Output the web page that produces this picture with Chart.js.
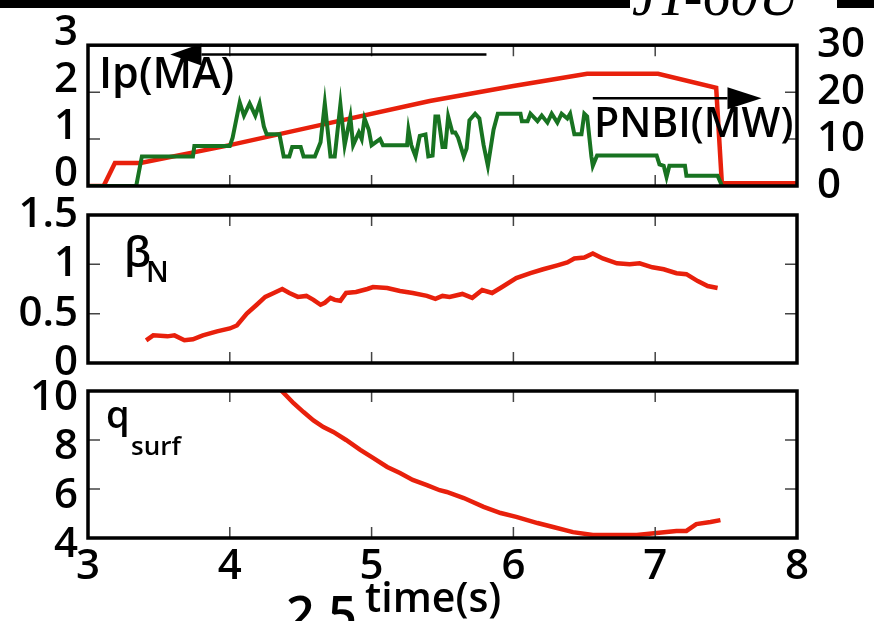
<!DOCTYPE html>
<html lang="en">
<head>
<meta charset="UTF-8">
<title>JT-60U discharge</title>
<script src="https://cdn.jsdelivr.net/npm/chart.js"></script>
<style>
  html, body { margin: 0; padding: 0; background: #fff; }
  body { width: 874px; height: 621px; position: relative; overflow: hidden; font-family: "Open Sans", sans-serif; font-weight: 600; }
  canvas { position: absolute; left: 0; top: 0; }
  .lbl { position: absolute; line-height: 1; white-space: nowrap; color: #000; }
  .bar { position: absolute; top: 0; height: 8px; background: #000; }
</style>
</head>
<body>
<div class="bar" style="left:0;width:630px"></div>
<div class="bar" style="left:837px;width:37px"></div>
<div class="lbl" style="left:632px;top:-32px;font-family:'Liberation Serif',serif;font-style:italic;font-weight:normal;font-size:56px">JT-60U</div>

<canvas id="ipChart" width="874" height="621"></canvas>
<canvas id="betaChart" width="874" height="621"></canvas>
<canvas id="qChart" width="874" height="621"></canvas>

<div class="lbl" style="left:99px;top:50px;font-size:43px">Ip(MA)</div>
<div class="lbl" style="left:594px;top:101px;font-size:41px">PNBI(MW)</div>
<div class="lbl" style="left:124px;top:230px;font-size:42px">β</div>
<div class="lbl" style="left:146px;top:256px;font-size:29px">N</div>
<div class="lbl" style="left:106px;top:394px;font-size:38px">q</div>
<div class="lbl" style="left:131px;top:432px;font-size:26px">surf</div>
<div class="lbl" style="left:365px;top:576px;font-size:41px">time(s)</div>
<div class="lbl" style="left:286px;top:588px;font-size:50px">2.5</div>

<script>
const FONT = '"Open Sans", sans-serif';
const RED = '#e8200c';
const GREEN = '#187321';

// plasma current (MA)
const ipTime = [3.00, 3.11, 3.19, 3.37, 4.00, 4.70, 5.41, 6.00, 6.52, 7.02, 7.43, 7.47, 8.00];
const ipMA   = [0.00, 0.00, 0.49, 0.49, 0.87, 1.34, 1.81, 2.13, 2.39, 2.39, 2.09, 0.06, 0.06];

// NBI power (MW)
const pnbiTime = [3.00, 3.34, 3.38, 3.74, 3.75, 4.00, 4.02, 4.07, 4.10, 4.14, 4.18, 4.21, 4.24, 4.26,
  4.35, 4.38, 4.42, 4.44, 4.50, 4.52, 4.60, 4.64, 4.67, 4.71, 4.74, 4.78, 4.81, 4.85, 4.87, 4.91,
  4.93, 4.95, 4.98, 5.00, 5.06, 5.08, 5.25, 5.26, 5.28, 5.31, 5.34, 5.38, 5.40, 5.43, 5.45, 5.47,
  5.50, 5.52, 5.54, 5.57, 5.59, 5.61, 5.65, 5.67, 5.69, 5.73, 5.76, 5.79, 5.82, 5.86, 5.89, 6.05,
  6.06, 6.10, 6.12, 6.17, 6.20, 6.24, 6.27, 6.31, 6.34, 6.38, 6.40, 6.43, 6.48, 6.50, 6.52, 6.55,
  6.56, 6.59, 7.01, 7.03, 7.06, 7.08, 7.10, 7.21, 7.22, 7.44, 7.47];
const pnbiMW = [0, 0, 6.3, 6.3, 8.5, 8.5, 10.3, 17.8, 15, 17.6, 15, 17.6, 12.7, 11,
  11, 6.3, 6.3, 8.3, 8.3, 6.3, 6.3, 9.3, 17.6, 6.3, 6.3, 17.4, 8.7, 14.7, 8.7, 11.4,
  10, 14.4, 12, 8.7, 10, 8.7, 8.7, 12, 8.7, 6.3, 10.7, 11, 6.3, 6.5, 14.8, 14.8,
  8.3, 8.3, 14.8, 11.4, 11.4, 10.3, 6.3, 8, 14, 15.4, 14.4, 8.7, 4.3, 12, 15.4, 15.4,
  13.8, 13.8, 15.4, 13.8, 15, 13.5, 15.4, 13.5, 15.4, 14.4, 15.4, 11, 11, 15.4, 14.8, 6.3,
  4.3, 6.5, 6.5, 4.6, 4.3, 1.9, 4.3, 4.3, 2.2, 2.2, 0.1];

// normalised beta
const betaTime = [3.41, 3.46, 3.56, 3.61, 3.68, 3.74, 3.81, 3.91, 4.00, 4.05, 4.12, 4.19, 4.25, 4.31,
  4.37, 4.42, 4.48, 4.54, 4.59, 4.64, 4.67, 4.71, 4.74, 4.78, 4.82, 4.89, 4.97, 5.01, 5.11, 5.20,
  5.29, 5.39, 5.45, 5.50, 5.55, 5.64, 5.71, 5.78, 5.85, 5.92, 6.02, 6.12, 6.21, 6.31, 6.38, 6.43,
  6.50, 6.56, 6.63, 6.73, 6.82, 6.89, 6.98, 7.06, 7.15, 7.22, 7.30, 7.37, 7.44];
const betaN = [0.23, 0.28, 0.27, 0.28, 0.23, 0.24, 0.28, 0.32, 0.35, 0.38, 0.50, 0.59, 0.67, 0.71,
  0.75, 0.71, 0.67, 0.68, 0.64, 0.59, 0.61, 0.66, 0.64, 0.63, 0.71, 0.72, 0.75, 0.77, 0.76, 0.73,
  0.71, 0.68, 0.65, 0.68, 0.67, 0.70, 0.66, 0.74, 0.71, 0.77, 0.86, 0.91, 0.95, 0.99, 1.02, 1.06,
  1.07, 1.11, 1.06, 1.01, 1.00, 1.01, 0.97, 0.95, 0.91, 0.90, 0.83, 0.78, 0.76];

// edge safety factor
const qTime = [4.35, 4.45, 4.52, 4.59, 4.66, 4.73, 4.82, 4.92, 5.01, 5.11, 5.20, 5.29, 5.39, 5.48,
  5.53, 5.65, 5.79, 5.91, 6.02, 6.17, 6.28, 6.42, 6.56, 6.73, 6.87, 7.01, 7.15, 7.22, 7.29, 7.39, 7.46];
const qSurf = [10.1, 9.5, 9.14, 8.8, 8.53, 8.33, 8.0, 7.6, 7.27, 6.9, 6.65, 6.37, 6.16, 5.95,
  5.88, 5.63, 5.27, 5.02, 4.86, 4.61, 4.45, 4.24, 4.12, 4.12, 4.12, 4.2, 4.29, 4.29, 4.57, 4.65, 4.73];

const timeTicks = [3, 4, 5, 6, 7, 8];

// annotation arrows (time in s, level in axis units)
const ipArrow = { from: 5.81, to: 3.58, head: 0.22, level: 2.8, axis: 'y' };
const pnbiArrow = { from: 6.56, to: 7.75, head: 0.24, level: 18.7, axis: 'y2' };

function pts(xs, ys) {
  return xs.map((x, i) => ({ x: x, y: ys[i] }));
}

// box around the panel plus short inward ticks
const framePlugin = {
  id: 'frame',
  afterDatasetsDraw(chart) {
    const a = chart.chartArea, ctx = chart.ctx;
    const xs = chart.scales.x, ys = chart.scales.y;
    ctx.save();
    ctx.strokeStyle = '#444';
    ctx.lineWidth = 1.5;
    ctx.beginPath();
    timeTicks.forEach(t => {
      if (t <= xs.min || t >= xs.max) return;
      const px = xs.getPixelForValue(t);
      ctx.moveTo(px, a.top); ctx.lineTo(px, a.top + 11);
      ctx.moveTo(px, a.bottom); ctx.lineTo(px, a.bottom - 11);
    });
    ys.ticks.forEach(t => {
      if (t.value <= ys.min || t.value >= ys.max) return;
      const py = ys.getPixelForValue(t.value);
      ctx.moveTo(a.left, py); ctx.lineTo(a.left + 12, py);
      ctx.moveTo(a.right, py); ctx.lineTo(a.right - 12, py);
    });
    ctx.stroke();
    ctx.strokeStyle = '#000';
    ctx.lineWidth = 3.5;
    ctx.strokeRect(a.left, a.top, a.right - a.left, a.bottom - a.top);
    ctx.restore();
  }
};

function drawArrow(chart, arr) {
  const ctx = chart.ctx, xs = chart.scales.x, ys = chart.scales[arr.axis];
  const y = ys.getPixelForValue(arr.level);
  const x0 = xs.getPixelForValue(arr.from);
  const x1 = xs.getPixelForValue(arr.to);
  const dir = arr.to > arr.from ? 1 : -1;
  const xb = xs.getPixelForValue(arr.to - dir * arr.head);
  ctx.save();
  ctx.strokeStyle = '#000';
  ctx.fillStyle = '#000';
  ctx.lineWidth = 2.5;
  ctx.beginPath();
  ctx.moveTo(x0, y); ctx.lineTo(xb, y);
  ctx.stroke();
  ctx.beginPath();
  ctx.moveTo(x1, y); ctx.lineTo(xb, y - 11); ctx.lineTo(xb, y + 11);
  ctx.closePath();
  ctx.fill();
  ctx.restore();
}

const arrowPlugin = {
  id: 'arrows',
  afterDraw(chart) {
    drawArrow(chart, ipArrow);
    drawArrow(chart, pnbiArrow);
  }
};

function tickFont() {
  return { family: FONT, size: 42, weight: '600' };
}

function plainLabel(v) {
  return String(Math.round(v * 10) / 10);
}

function yAxis(min, max, step, offset) {
  return {
    min: min, max: max, position: 'left',
    grid: { display: false, drawTicks: false },
    border: { display: false },
    ticks: { stepSize: step, padding: 10, labelOffset: offset, autoSkip: false, color: '#000', font: tickFont(), callback: plainLabel },
    afterFit(s) { s.width = 88; }
  };
}

function hiddenX() {
  return { type: 'linear', min: 3, max: 8, display: false };
}

function baseOptions(pad, scales) {
  return {
    responsive: false,
    animation: false,
    events: [],
    layout: { padding: pad },
    plugins: { legend: { display: false }, tooltip: { enabled: false } },
    elements: { point: { radius: 0 }, line: { tension: 0 } },
    scales: scales
  };
}

new Chart(document.getElementById('ipChart'), {
  type: 'line',
  data: {
    datasets: [
      { label: 'PNBI(MW)', data: pts(pnbiTime, pnbiMW), yAxisID: 'y2', borderColor: GREEN, borderWidth: 4, fill: false },
      { label: 'Ip(MA)', data: pts(ipTime, ipMA), yAxisID: 'y', borderColor: RED, borderWidth: 4.5, fill: false }
    ]
  },
  options: baseOptions({ top: 38, bottom: 435, left: 0, right: 0 }, {
    x: hiddenX(),
    y: yAxis(0, 3, 1, -12),
    y2: {
      min: 0, max: 30, position: 'right',
      grid: { display: false, drawTicks: false },
      border: { display: false },
      ticks: { stepSize: 10, padding: 20, autoSkip: false, color: '#000', font: tickFont(), callback: plainLabel },
      afterFit(s) { s.width = 77; }
    }
  }),
  plugins: [framePlugin, arrowPlugin]
});

new Chart(document.getElementById('betaChart'), {
  type: 'line',
  data: {
    datasets: [
      { label: 'betaN', data: pts(betaTime, betaN), borderColor: RED, borderWidth: 4.5, fill: false }
    ]
  },
  options: baseOptions({ top: 215, bottom: 258, left: 0, right: 77 }, {
    x: hiddenX(),
    y: yAxis(0, 1.5, 0.5, 0)
  }),
  plugins: [framePlugin]
});

new Chart(document.getElementById('qChart'), {
  type: 'line',
  data: {
    datasets: [
      { label: 'qsurf', data: pts(qTime, qSurf), borderColor: RED, borderWidth: 4.5, fill: false }
    ]
  },
  options: baseOptions({ top: 391, bottom: 23, left: 0, right: 77 }, {
    x: {
      type: 'linear', min: 3, max: 8,
      grid: { display: false, drawTicks: false },
      border: { display: false },
      ticks: { stepSize: 1, padding: 4, autoSkip: false, maxRotation: 0, color: '#000', font: tickFont() },
      afterFit(s) { s.height = 60; }
    },
    y: yAxis(4, 10, 2, 7)
  }),
  plugins: [framePlugin]
});
</script>
</body>
</html>
